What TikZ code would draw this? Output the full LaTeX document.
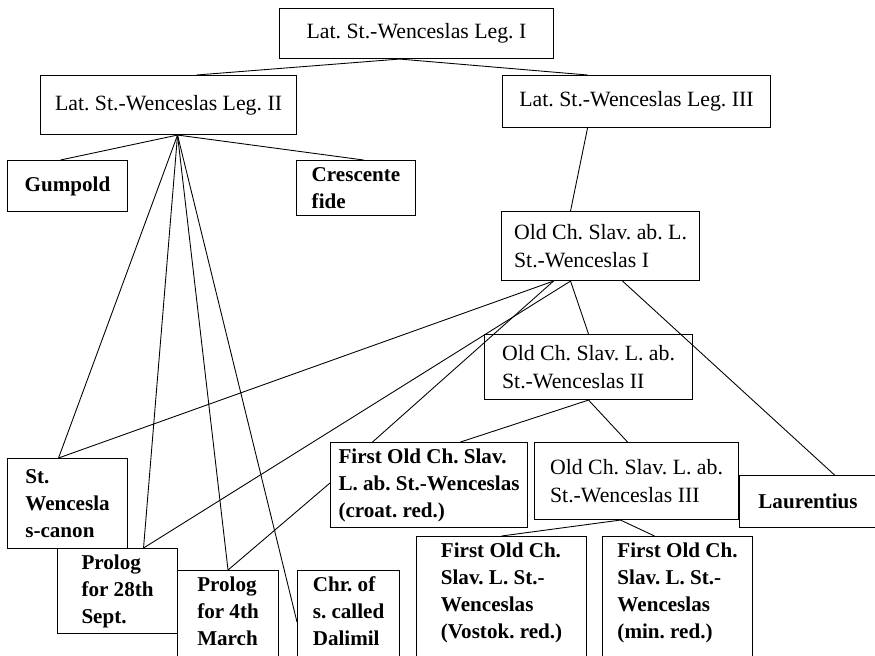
\documentclass[tikz,border=0pt]{standalone}
\usepackage{fontspec}
\setmainfont{Liberation Serif}
\frenchspacing
\tikzstyle{block} = [rectangle, draw, line width=0.6pt, anchor=north west,
  align=left, font=\fontsize{12.4}{15.5}\selectfont]
\tikzstyle{bold_block} = [block, font=\bfseries\fontsize{12}{15.5}\selectfont]
\tikzstyle{cut_block} = [bold_block, text depth=2cm]
\tikzstyle{line} = [draw, line width=0.5pt]

\begin{document}
\begin{tikzpicture}
                    \useasboundingbox (0,0) rectangle (17.5,-13.1);
                    \clip (0,0) rectangle (17.5,-13.1);

                    % Latin legends
                    \node [block, minimum width=5.48cm, minimum height=1.00cm] (leg_one) at (5.58,-0.16) {Lat. St.-Wenceslas Leg. I};
                    \node [block, minimum width=5.12cm, minimum height=1.18cm] (leg_two) at (0.80,-1.50) {Lat. St.-Wenceslas Leg. II};
                    \node [block, minimum width=5.36cm, minimum height=1.04cm] (leg_three) at (10.04,-1.50) {Lat. St.-Wenceslas Leg. III};
                    \node [bold_block, minimum width=2.40cm, minimum height=1.02cm] (gumpold) at (0.14,-3.20) {Gumpold};
                    \node [bold_block, minimum width=2.38cm, minimum height=1.10cm] (crescente) at (5.92,-3.20) {Crescente\\fide};

                    % Old Church Slavonic legends
                    \node [block, minimum width=3.96cm, minimum height=1.38cm] (slav_one) at (10.02,-4.22) {Old Ch. Slav. ab. L.\\St.-Wenceslas I};
                    \node [block, minimum width=4.16cm, minimum height=1.30cm] (slav_two) at (9.68,-6.68) {Old Ch. Slav. L. ab.\\St.-Wenceslas II};
                    \node [block, minimum width=4.08cm, minimum height=1.54cm] (slav_three) at (10.68,-8.84) {Old Ch. Slav. L. ab.\\St.-Wenceslas III};
                    \node [bold_block, minimum width=3.94cm, minimum height=1.54cm] (croat) at (6.60,-8.84) {First Old Ch. Slav.\\L. ab. St.-Wenceslas\\(croat. red.)};
                    \node [bold_block, minimum width=2.74cm, minimum height=1.04cm] (laurentius) at (14.78,-9.50) {Laurentius};
                    \node [cut_block, minimum width=3.40cm] (vostok) at (8.32,-10.72) {First Old Ch.\\Slav. L. St.-\\Wenceslas\\(Vostok. red.)};
                    \node [cut_block, minimum width=3.00cm] (min_red) at (12.04,-10.72) {First Old Ch.\\Slav. L. St.-\\Wenceslas\\(min. red.)};

                    % Later texts
                    \node [bold_block, minimum width=2.40cm, minimum height=1.80cm] (canon) at (0.14,-9.16) {St.\\Wencesla\\s-canon};
                    \node [bold_block, minimum width=2.40cm, minimum height=1.70cm] (prolog_sept) at (1.14,-10.96) {Prolog\\for 28th\\Sept.};
                    \node [cut_block, minimum width=2.02cm] (prolog_march) at (3.54,-11.40) {Prolog\\for 4th\\March};
                    \node [cut_block, minimum width=2.04cm] (dalimil) at (5.94,-11.40) {Chr. of\\s. called\\Dalimil};

                    % Draw edges
                    \path [line] ([xshift=-0.34cm]leg_one.south) -- ([xshift=0.56cm]leg_two.north);
                    \path [line] ([xshift=-0.34cm]leg_one.south) -- ([xshift=-0.98cm]leg_three.north);
                    \path [line] ([xshift=0.18cm]leg_two.south) -- ([xshift=-0.14cm]gumpold.north);
                    \path [line] ([xshift=0.18cm]leg_two.south) -- ([xshift=0.15cm]crescente.north);
                    \path [line] ([xshift=0.18cm]leg_two.south) -- ([xshift=-0.18cm]canon.north);
                    \path [line] ([xshift=0.18cm]leg_two.south) -- ([xshift=0.52cm]prolog_sept.north);
                    \path [line] ([xshift=0.18cm]leg_two.south) -- (prolog_march.north);
                    \path [line] ([xshift=0.18cm]leg_two.south) -- ([yshift=-1.04cm]dalimil.north west);
                    \path [line] ([xshift=-0.98cm]leg_three.south) -- ([xshift=-0.60cm]slav_one.north);
                    \path [line] ([xshift=-0.94cm]slav_one.south) -- ([xshift=-0.18cm]canon.north);
                    \path [line] ([xshift=-0.94cm]slav_one.south) -- ([xshift=-1.13cm]croat.north);
                    \path [line] ([xshift=-0.60cm]slav_one.south) -- ([xshift=0.52cm]prolog_sept.north);
                    \path [line] ([xshift=-0.60cm]slav_one.south) -- (slav_two.north);
                    \path [line] ([xshift=0.44cm]slav_one.south) -- ([xshift=0.53cm]laurentius.north);
                    \path [line] (slav_two.south) -- ([xshift=0.63cm]croat.north);
                    \path [line] (slav_two.south) -- ([xshift=-0.18cm]slav_three.north);
                    \path [line] ([yshift=-0.82cm]croat.north west) -- (prolog_march.north);
                    \path [line] ([xshift=-0.32cm]slav_three.south) -- (vostok.north);
                    \path [line] ([xshift=-0.32cm]slav_three.south) -- ([xshift=-0.46cm]min_red.north);
                \end{tikzpicture}
\end{document}
